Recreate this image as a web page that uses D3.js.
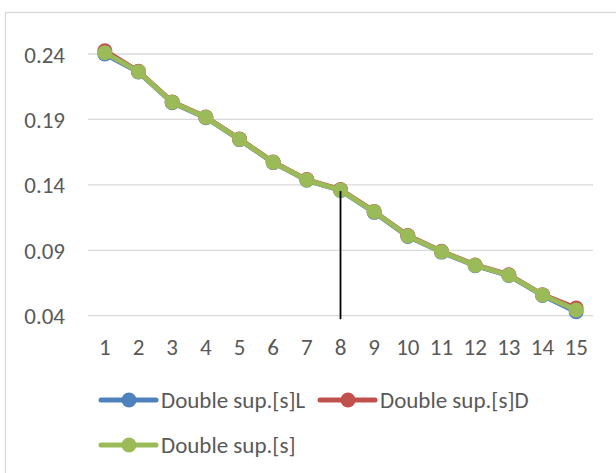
<!DOCTYPE html>
<html>
<head>
<meta charset="utf-8">
<script src="https://cdn.jsdelivr.net/npm/d3@7"></script>
<style>
  html, body { margin: 0; padding: 0; background: #fff; }
  text { font-family: Calibri, Carlito, "Liberation Sans", Arial, sans-serif; fill: #595959; }
</style>
</head>
<body>
<div id="chart"></div>
<script>
// category labels along x
const categories = [1, 2, 3, 4, 5, 6, 7, 8, 9, 10, 11, 12, 13, 14, 15];
// y tick values
const yTicks = [0.04, 0.09, 0.14, 0.19, 0.24];

// series values
const seriesL = [0.2400, 0.2262, 0.2028, 0.1913, 0.1746, 0.1570, 0.1435, 0.1357, 0.1190, 0.1006, 0.0886, 0.0782, 0.0707, 0.0555, 0.0430];
const seriesD = [0.2425, 0.2268, 0.2034, 0.1918, 0.1751, 0.1574, 0.1440, 0.1364, 0.1197, 0.1012, 0.0892, 0.0788, 0.0713, 0.0561, 0.0458];
const seriesS = [0.2410, 0.2265, 0.2031, 0.1916, 0.1748, 0.1572, 0.1437, 0.1360, 0.1194, 0.1009, 0.0889, 0.0785, 0.0710, 0.0558, 0.0444];

const seriesNames = ["Double sup.[s]L", "Double sup.[s]D", "Double sup.[s]"];
const seriesColors = ["#4F81BD", "#C0504D", "#9BBB59"];

// the single drop line sits at category 8
const dropCategory = 8;

const width = 616, height = 473;
const margin = { left: 88, right: 23 };
const fontSize = "23px";

const svg = d3.select("#chart")
  .append("svg")
  .attr("width", width)
  .attr("height", height);

// outer chart frame (runs off the right and bottom edges)
svg.append("rect")
  .attr("x", 5.5)
  .attr("y", 12.5)
  .attr("width", width + 20)
  .attr("height", height + 20)
  .attr("fill", "none")
  .attr("stroke", "#d9d9d9")
  .attr("stroke-width", 1.3);

const x = d3.scaleBand()
  .domain(categories)
  .range([margin.left, width - margin.right]);

const y = d3.scaleLinear()
  .domain([0.04, 0.24])
  .range([315.7, 54]);

// gridlines
svg.append("g")
  .selectAll("line")
  .data(yTicks)
  .join("line")
  .attr("x1", margin.left)
  .attr("x2", width - margin.right)
  .attr("y1", d => y(d))
  .attr("y2", d => y(d))
  .attr("stroke", "#d9d9d9")
  .attr("stroke-width", 1.3);

// y axis labels
const yAxis = d3.axisLeft(y)
  .tickValues(yTicks)
  .tickFormat(d3.format(".2f"))
  .tickSize(0)
  .tickPadding(0);

svg.append("g")
  .attr("transform", "translate(65,0)")
  .call(yAxis)
  .call(g => g.select(".domain").remove())
  .call(g => g.selectAll("text")
    .attr("dy", null)
    .attr("dominant-baseline", "central")
    .style("font-size", fontSize)
    .style("font-family", null)
    .attr("fill", "#595959"));

// x axis labels
const xAxis = d3.axisBottom(x)
  .tickSize(0)
  .tickPadding(0);

svg.append("g")
  .attr("transform", "translate(0,347)")
  .call(xAxis)
  .call(g => g.select(".domain").remove())
  .call(g => g.selectAll("text")
    .attr("dy", null)
    .attr("y", 0)
    .attr("dominant-baseline", "central")
    .style("font-size", fontSize)
    .style("font-family", null)
    .attr("fill", "#595959"));

const cx = d => x(d) + x.bandwidth() / 2;

const allSeries = [seriesL, seriesD, seriesS];

const line = d3.line()
  .x((d, i) => cx(categories[i]))
  .y(d => y(d));

allSeries.forEach((vals, k) => {
  const g = svg.append("g");
  g.append("path")
    .datum(vals)
    .attr("d", line)
    .attr("fill", "none")
    .attr("stroke", seriesColors[k])
    .attr("stroke-width", 5)
    .attr("stroke-linejoin", "round")
    .attr("stroke-linecap", "round");
  g.selectAll("circle")
    .data(vals)
    .join("circle")
    .attr("cx", (d, i) => cx(categories[i]))
    .attr("cy", d => y(d))
    .attr("r", 7.5)
    .attr("fill", seriesColors[k]);
});

// black drop line at category 8, drawn over the markers
const dropIdx = categories.indexOf(dropCategory);
svg.append("line")
  .attr("x1", cx(dropCategory))
  .attr("x2", cx(dropCategory))
  .attr("y1", y(seriesS[dropIdx]) + 1)
  .attr("y2", y(0.04) + 3.5)
  .attr("stroke", "#000")
  .attr("stroke-width", 1.8);

// legend
const legendPos = [
  { x: 101, y: 400 },
  { x: 320, y: 400 },
  { x: 101, y: 445 }
];

const legend = svg.append("g")
  .selectAll("g")
  .data(seriesNames)
  .join("g")
  .attr("transform", (d, i) => `translate(${legendPos[i].x},${legendPos[i].y})`);

legend.append("line")
  .attr("x1", 0)
  .attr("x2", 55)
  .attr("stroke", (d, i) => seriesColors[i])
  .attr("stroke-width", 5)
  .attr("stroke-linecap", "round");

legend.append("circle")
  .attr("cx", 28)
  .attr("r", 7.5)
  .attr("fill", (d, i) => seriesColors[i]);

legend.append("text")
  .attr("x", 60)
  .attr("dominant-baseline", "central")
  .style("font-size", fontSize)
  .text(d => d);
</script>
</body>
</html>
